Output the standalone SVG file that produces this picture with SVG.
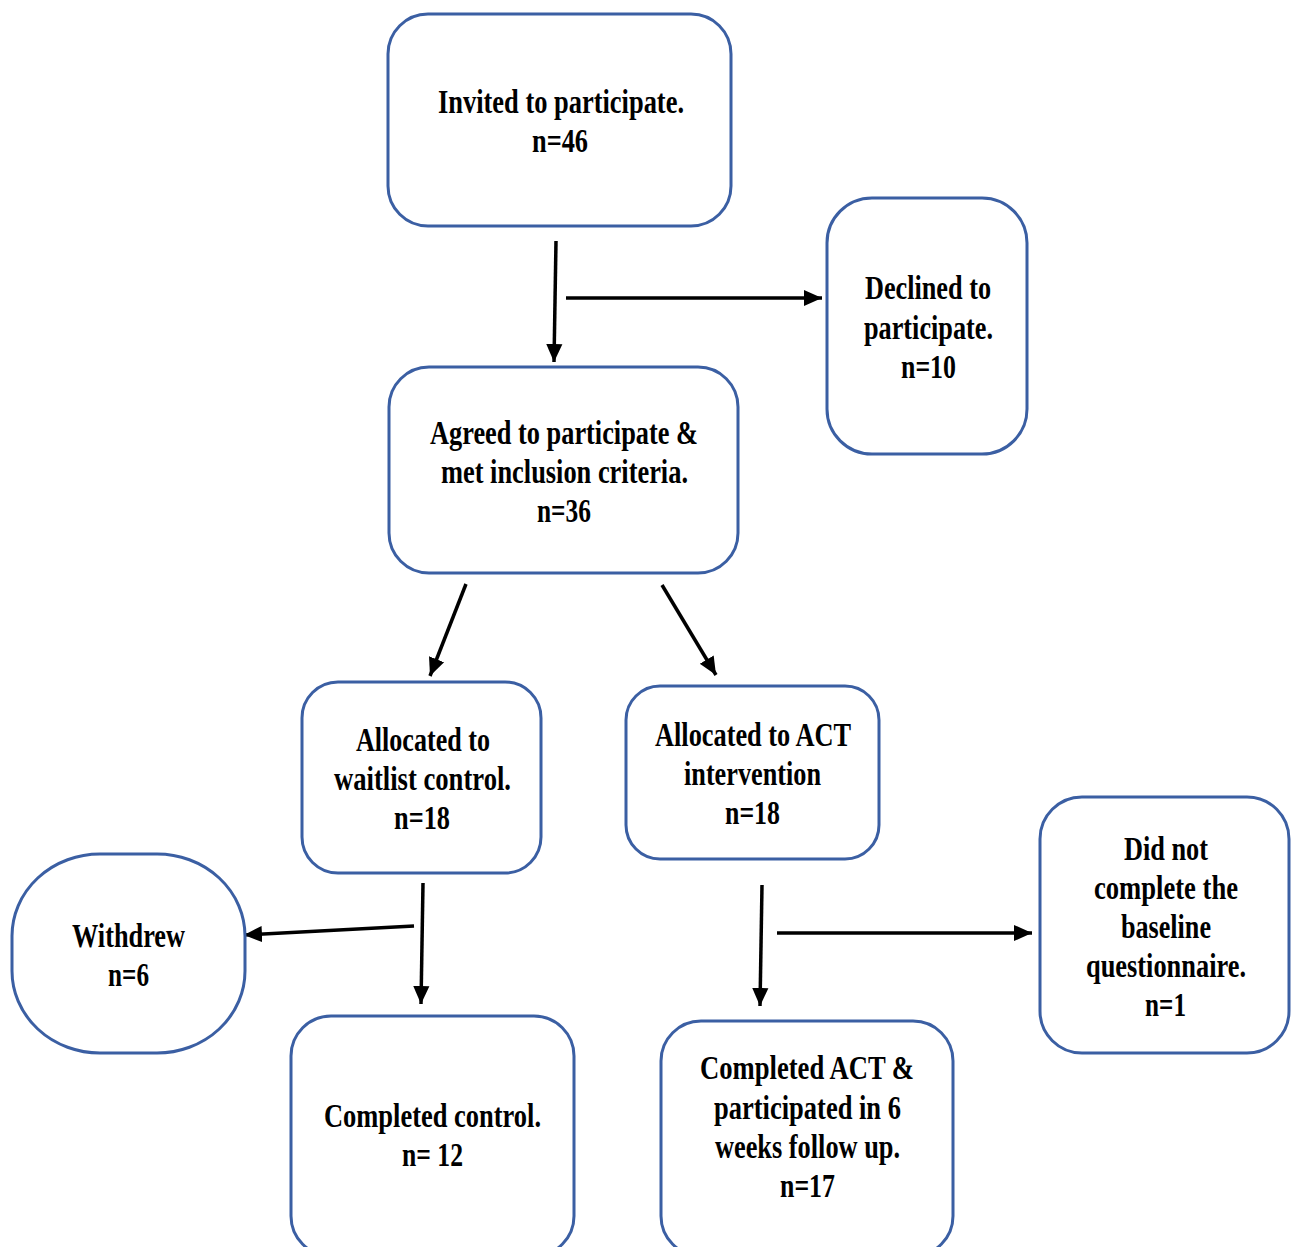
<svg xmlns="http://www.w3.org/2000/svg" width="1291" height="1247" viewBox="0 0 1291 1247">
<style>
.box{fill:#ffffff;stroke:#3b5fa3;stroke-width:3}
.t{font-family:"Liberation Serif","Times New Roman",serif;font-weight:bold;font-size:34px;fill:#000;text-anchor:middle}
.c{stroke:#000;stroke-width:3.5;fill:none}
</style>
<defs>
<marker id="ah" viewBox="0 0 10 10" refX="10" refY="5" markerWidth="18" markerHeight="18" markerUnits="userSpaceOnUse" orient="auto">
<path d="M0,0.5 L10,5 L0,9.5 z" fill="#000"/>
</marker>
</defs>
<rect width="1291" height="1247" fill="#ffffff"/>
<g id="connectors">
<line class="c" x1="556" y1="241" x2="554" y2="362" marker-end="url(#ah)"/>
<line class="c" x1="566" y1="298" x2="822" y2="298" stroke-width="4.5" marker-end="url(#ah)"/>
<line class="c" x1="466" y1="584" x2="430" y2="676" marker-end="url(#ah)"/>
<line class="c" x1="662" y1="585" x2="716" y2="675" marker-end="url(#ah)"/>
<line class="c" x1="414" y1="926" x2="244" y2="935" stroke-width="4.5" marker-end="url(#ah)"/>
<line class="c" x1="423" y1="883" x2="421" y2="1004" marker-end="url(#ah)"/>
<line class="c" x1="762" y1="885" x2="760" y2="1006" marker-end="url(#ah)"/>
<line class="c" x1="777" y1="933" x2="1032" y2="933" stroke-width="4.5" marker-end="url(#ah)"/>
</g>
<g id="invited">
<rect class="box" x="388" y="14" width="343" height="212" rx="40"/>
<text class="t" x="561" y="113" textLength="246" lengthAdjust="spacingAndGlyphs">Invited to participate.</text>
<text class="t" x="560" y="152" textLength="56" lengthAdjust="spacingAndGlyphs">n=46</text>
</g>
<g id="declined">
<rect class="box" x="827" y="198" width="200" height="256" rx="45"/>
<text class="t" x="928" y="299" textLength="126" lengthAdjust="spacingAndGlyphs">Declined to</text>
<text class="t" x="928.5" y="339" textLength="129" lengthAdjust="spacingAndGlyphs">participate.</text>
<text class="t" x="928.5" y="378" textLength="55" lengthAdjust="spacingAndGlyphs">n=10</text>
</g>
<g id="agreed">
<rect class="box" x="389" y="367" width="349" height="206" rx="40"/>
<text class="t" x="564" y="444" textLength="268" lengthAdjust="spacingAndGlyphs">Agreed to participate &amp;</text>
<text class="t" x="564.5" y="483" textLength="247" lengthAdjust="spacingAndGlyphs">met inclusion criteria.</text>
<text class="t" x="564" y="522" textLength="54" lengthAdjust="spacingAndGlyphs">n=36</text>
</g>
<g id="waitlist">
<rect class="box" x="302" y="682" width="239" height="191" rx="36"/>
<text class="t" x="423" y="751" textLength="134" lengthAdjust="spacingAndGlyphs">Allocated to</text>
<text class="t" x="422.5" y="790" textLength="177" lengthAdjust="spacingAndGlyphs">waitlist control.</text>
<text class="t" x="422" y="829" textLength="56" lengthAdjust="spacingAndGlyphs">n=18</text>
</g>
<g id="act">
<rect class="box" x="626" y="686" width="253" height="173" rx="34"/>
<text class="t" x="753" y="746" textLength="196" lengthAdjust="spacingAndGlyphs">Allocated to ACT</text>
<text class="t" x="752.5" y="785" textLength="137" lengthAdjust="spacingAndGlyphs">intervention</text>
<text class="t" x="752.5" y="824" textLength="55" lengthAdjust="spacingAndGlyphs">n=18</text>
</g>
<g id="withdrew">
<rect class="box" x="12" y="854" width="233" height="199" rx="88" ry="82"/>
<text class="t" x="128.5" y="947" textLength="113" lengthAdjust="spacingAndGlyphs">Withdrew</text>
<text class="t" x="128.5" y="986" textLength="41" lengthAdjust="spacingAndGlyphs">n=6</text>
</g>
<g id="completed-control">
<rect class="box" x="291" y="1016" width="283" height="240" rx="40"/>
<text class="t" x="432.5" y="1127" textLength="217" lengthAdjust="spacingAndGlyphs">Completed control.</text>
<text class="t" x="432.5" y="1166" textLength="61" lengthAdjust="spacingAndGlyphs">n= 12</text>
</g>
<g id="completed-act">
<rect class="box" x="661" y="1021" width="292" height="235" rx="40"/>
<text class="t" x="807" y="1079" textLength="214" lengthAdjust="spacingAndGlyphs">Completed ACT &amp;</text>
<text class="t" x="807.5" y="1119" textLength="187" lengthAdjust="spacingAndGlyphs">participated in 6</text>
<text class="t" x="807.5" y="1158" textLength="185" lengthAdjust="spacingAndGlyphs">weeks follow up.</text>
<text class="t" x="807.5" y="1197" textLength="55" lengthAdjust="spacingAndGlyphs">n=17</text>
</g>
<g id="baseline">
<rect class="box" x="1040" y="797" width="249" height="256" rx="42"/>
<text class="t" x="1166" y="860" textLength="84" lengthAdjust="spacingAndGlyphs">Did not</text>
<text class="t" x="1166" y="899" textLength="144" lengthAdjust="spacingAndGlyphs">complete the</text>
<text class="t" x="1166" y="938" textLength="90" lengthAdjust="spacingAndGlyphs">baseline</text>
<text class="t" x="1166" y="977" textLength="160" lengthAdjust="spacingAndGlyphs">questionnaire.</text>
<text class="t" x="1165.5" y="1016" textLength="41" lengthAdjust="spacingAndGlyphs">n=1</text>
</g>
</svg>
